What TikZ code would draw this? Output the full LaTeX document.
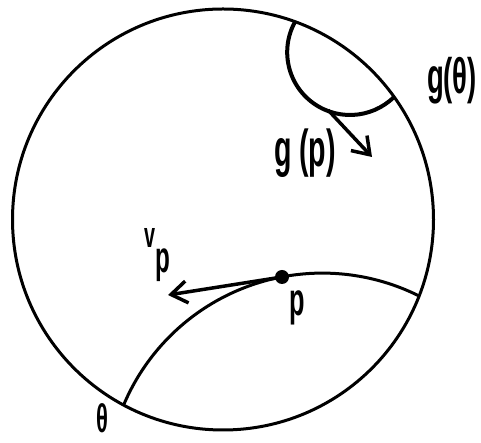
\documentclass[tikz,border=0pt]{standalone}
\usepackage{fontspec}
\setmainfont{Liberation Sans}
\usetikzlibrary{arrows.meta}
\newcommand\handlab[2][44]{\scalebox{0.55}[1]{\fontsize{#1}{#1}\selectfont\bfseries #2}}
\begin{document}
\begin{tikzpicture}[x=1pt,y=1pt,
  rim/.style={line width=3pt},
  geo/.style={line width=3pt},
  geothick/.style={line width=4pt},
  vec/.style={line width=3.5pt,-{Straight Barb[length=16pt,width=22pt,line width=3.5pt]}},
  lab/.style={inner sep=0pt}]
\useasboundingbox (0,0) rectangle (481,443);
\coordinate (O) at (223,223.5);
\draw[rim] (O) circle[radius=210.5];
\begin{scope}
  \clip (O) circle[radius=210.5];
  \draw[geo] (322.4,-45.8) ++(160:215.7) arc[start angle=160,end angle=60,radius=215.7];
  \draw[geothick] (350,390.8) ++(145:62.8) arc[start angle=145,end angle=320,radius=62.8];
\end{scope}
\coordinate (p) at (282,166);
\coordinate (vtip) at (168,148);
\coordinate (gpstart) at (328,333);
\coordinate (gptip) at (372,286);
\draw[vec] (p) -- (vtip);
\draw[vec] (gpstart) -- (gptip);
\fill (p) circle[radius=7];
\node[lab] (lgt) at (452,362) {\handlab[50]{g(θ)}};
\node[lab] (lgp) at (305,290) {\handlab[52]{g (p)}};
\node[lab,anchor=base west] (lvp) at (144,195) {\handlab{{\fontsize{36}{36}\selectfont v}\raisebox{-25pt}{p}}};
\node[lab] (lp) at (297,135) {\handlab[46]{p}};
\node[lab,anchor=south] (lth) at (102,10) {\handlab[40]{θ}};
\end{tikzpicture}
\end{document}
